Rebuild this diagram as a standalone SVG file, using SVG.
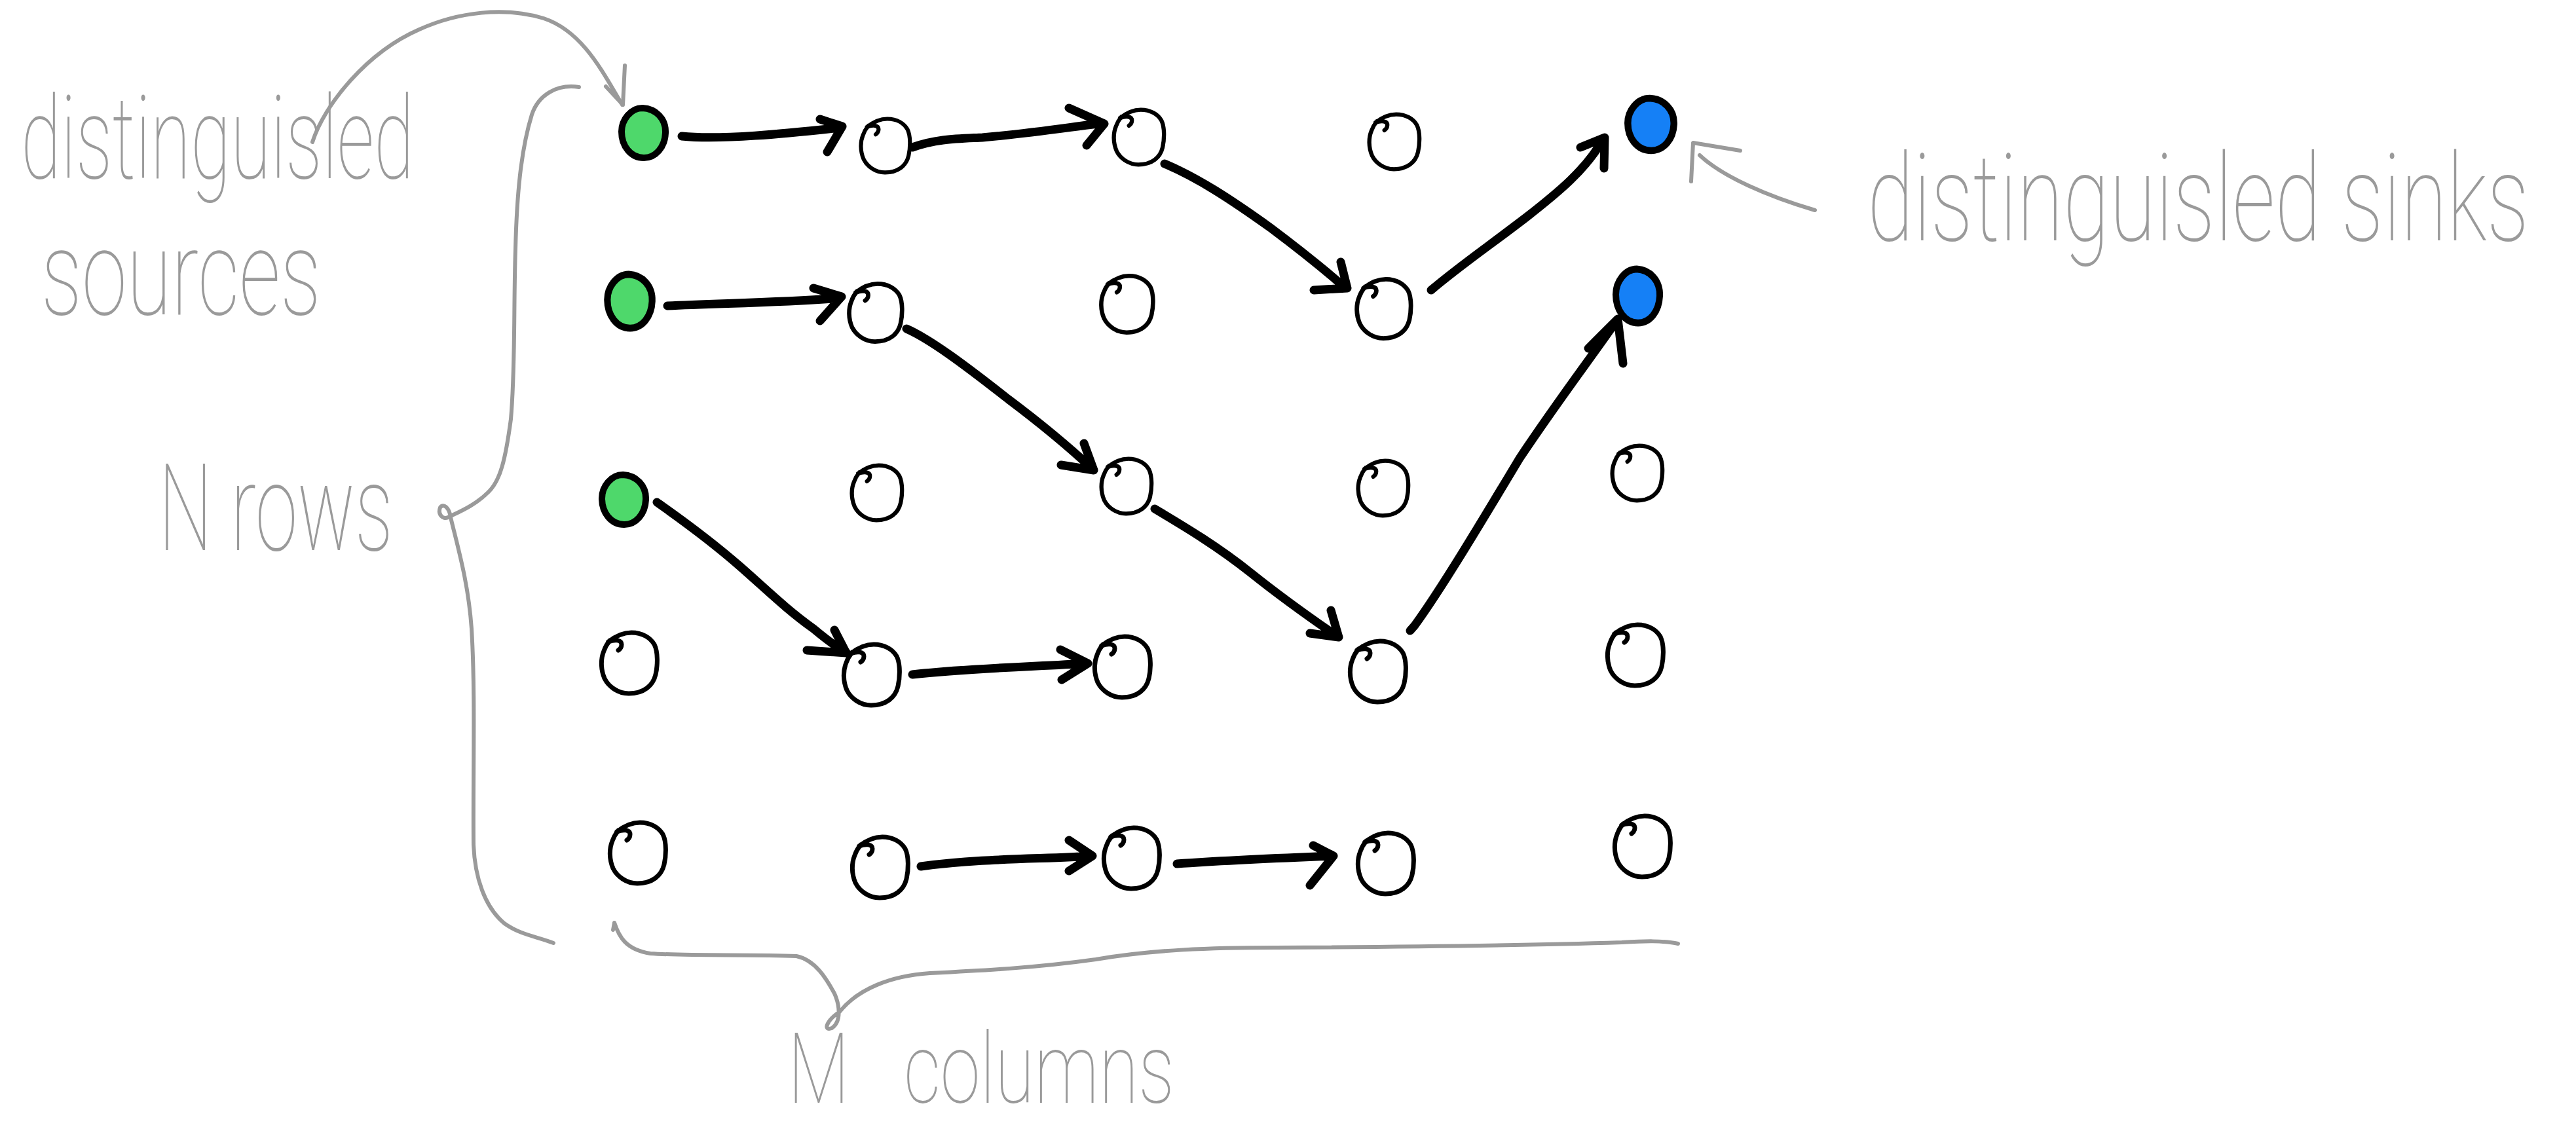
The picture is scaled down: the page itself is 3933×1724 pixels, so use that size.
<svg xmlns="http://www.w3.org/2000/svg" xmlns:xlink="http://www.w3.org/1999/xlink" width="3933" height="1724" viewBox="0 0 3933 1724">
<style>
.ring{fill:none;stroke:#000;stroke-width:7;stroke-linecap:round;stroke-linejoin:round}
.dot{stroke:#000;stroke-width:10;stroke-linejoin:round}
.src{fill:#4ed86b}
.snk{fill:#1580f6}
.edge{fill:none;stroke:#000;stroke-width:13;stroke-linecap:round;stroke-linejoin:round}
.note{fill:none;stroke:#9a9a9a;stroke-width:6;stroke-linecap:round;stroke-linejoin:round}
.hand{fill:#9a9a9a;font-family:Roboto,Lato,"DejaVu Sans",sans-serif;font-weight:100}
</style>
<defs>
  <!-- hand-drawn empty node: loop plus the little pen hook at its start -->
  <g id="ring">
    <path class="ring" d="M -32,-32 C -22,-40 -10,-46 3,-46 C 20,-46 32,-38 38,-28 C 44,-16 43,5 40,18 C 36,35 22,47 -1,47 C -18,47 -32,36 -38,24 C -44,10 -44,-6 -39,-18 C -37,-24 -34,-29 -30,-34"/>
    <path class="ring" d="M -32,-32 C -22,-36 -12,-35 -12,-28 C -12,-24 -14,-21 -17,-19"/>
  </g>
  <!-- filled terminal node -->
  <path id="dot" d="M -2,-38 C 18,-37 34,-22 33,0 C 32,22 18,38 0,38 C -20,38 -34,20 -34,-2 C -34,-20 -20,-38 -2,-38 Z"/>
</defs>
<rect width="3933" height="1724" fill="#fff"/>

<!-- annotations -->
<g id="annotations">
  <path class="note" d="M 477,217 C 495,160 560,80 640,45 C 700,18 770,10 830,28 C 890,48 920,110 950,160"/>
  <path class="note" d="M 954,100 L 951,160 L 925,132"/>
  <path class="note" d="M 884,133 C 850,128 822,145 812,175 C 795,230 789,300 787,380 C 784,470 787,560 780,640 C 772,700 764,735 745,752 C 725,772 700,782 684,790 C 676,794 668,785 672,775 C 677,768 686,775 688,790 C 700,840 715,890 720,960 C 726,1060 722,1180 723,1290 C 725,1340 740,1385 770,1410 C 795,1428 820,1430 845,1440"/>
  <path class="note" d="M 938,1409 L 936,1420 M 938,1409 C 945,1430 955,1450 993,1456 C 1050,1460 1150,1457 1216,1460 C 1245,1466 1262,1495 1274,1517 C 1282,1535 1285,1560 1270,1570 C 1256,1575 1262,1558 1282,1545 C 1310,1510 1360,1490 1420,1486 C 1500,1482 1580,1478 1673,1465 C 1760,1450 1850,1447 1948,1447 C 2150,1446 2350,1443 2476,1439 C 2510,1437 2540,1436 2562,1441"/>
  <path class="note" d="M 2771,321 C 2700,300 2630,270 2595,237 M 2657,230 L 2585,218 L 2582,277"/>
  <text class="hand" x="32" y="272" font-size="176" textLength="600" lengthAdjust="spacingAndGlyphs">distinguisled</text>
  <text class="hand" x="63" y="480" font-size="182" textLength="427" lengthAdjust="spacingAndGlyphs">sources</text>
  <text class="hand" x="242" y="840" font-size="185" textLength="358" lengthAdjust="spacingAndGlyphs">N rows</text>
  <text class="hand" y="1684" font-size="150"><tspan x="1203" textLength="94" lengthAdjust="spacingAndGlyphs">M</tspan> <tspan x="1380" textLength="413" lengthAdjust="spacingAndGlyphs">columns</tspan></text>
  <text class="hand" x="2851" y="367" font-size="186" textLength="1010" lengthAdjust="spacingAndGlyphs">distinguisled sinks</text>
</g>

<!-- connectors -->
<g id="connectors">
  <path class="edge" d="M 1041,208 C 1100,214 1200,204 1282,195 M 1252,182 L 1286,193 L 1263,232" stroke-width="15"/>
  <path class="edge" d="M 1393,225 C 1430,212 1460,212 1500,210 C 1580,203 1640,193 1684,188 M 1632,165 L 1686,189 L 1659,222" stroke-width="15"/>
  <path class="edge" d="M 1778,250 C 1830,272 1880,305 1940,348 C 1980,378 2020,410 2050,436 M 2047,400 L 2057,440 L 2006,443"/>
  <path class="edge" d="M 2185,443 C 2230,405 2270,378 2330,332 C 2380,293 2420,260 2447,214 M 2413,225 L 2450,210 L 2449,257"/>
  <path class="edge" d="M 1019,467 C 1100,463 1200,462 1283,455 M 1242,440 L 1285,453 L 1252,490" stroke-width="15"/>
  <path class="edge" d="M 1384,502 C 1420,518 1470,555 1540,610 C 1600,655 1640,690 1668,716 M 1655,677 L 1670,718 L 1620,710"/>
  <path class="edge" d="M 1763,777 C 1810,805 1860,835 1910,875 C 1960,915 2010,950 2042,972 M 2032,932 L 2044,973 L 2000,967"/>
  <path class="edge" d="M 2153,963 L 2160,955 C 2200,900 2260,800 2320,700 C 2380,610 2430,545 2468,490 M 2425,532 L 2470,487 L 2478,555"/>
  <path class="edge" d="M 1003,767 C 1050,800 1090,830 1130,865 C 1170,900 1200,930 1242,960 C 1260,975 1280,990 1292,996 M 1232,993 L 1292,997 L 1274,962"/>
  <path class="edge" d="M 1393,1030 C 1480,1020 1580,1018 1659,1013 M 1619,992 L 1661,1013 L 1621,1038"/>
  <path class="edge" d="M 1406,1323 C 1500,1310 1600,1312 1667,1307 M 1632,1283 L 1668,1307 L 1632,1330"/>
  <path class="edge" d="M 1797,1319 C 1880,1313 1960,1310 2034,1307 M 2005,1291 L 2036,1307 L 2000,1352"/>
</g>

<!-- grid nodes, row by row -->
<g id="n1-1"><use xlink:href="#dot" class="dot src" transform="translate(983,203)"/></g>
<g id="n1-2"><use xlink:href="#ring" transform="translate(1352,222) scale(0.88)"/></g>
<g id="n1-3"><use xlink:href="#ring" transform="translate(1739,209) scale(0.9)"/></g>
<g id="n1-4"><use xlink:href="#ring" transform="translate(2129,216) scale(0.9)"/></g>
<g id="n1-5"><use xlink:href="#dot" class="dot snk" transform="translate(2521,190) scale(1.05)"/></g>

<g id="n2-1"><use xlink:href="#dot" class="dot src" transform="translate(962,460) scale(1.02,1.08)"/></g>
<g id="n2-2"><use xlink:href="#ring" transform="translate(1337,477) scale(0.95)"/></g>
<g id="n2-3"><use xlink:href="#ring" transform="translate(1721,464) scale(0.93)"/></g>
<g id="n2-4"><use xlink:href="#ring" transform="translate(2113,471) scale(0.97)"/></g>
<g id="n2-5"><use xlink:href="#dot" class="dot snk" transform="translate(2501,452) scale(1,1.08)"/></g>

<g id="n3-1"><use xlink:href="#dot" class="dot src" transform="translate(953,763)"/></g>
<g id="n3-2"><use xlink:href="#ring" transform="translate(1339,752) scale(0.9)"/></g>
<g id="n3-3"><use xlink:href="#ring" transform="translate(1720,742) scale(0.9)"/></g>
<g id="n3-4"><use xlink:href="#ring" transform="translate(2112,745) scale(0.9)"/></g>
<g id="n3-5"><use xlink:href="#ring" transform="translate(2500,722) scale(0.9)"/></g>

<g id="n4-1"><use xlink:href="#ring" transform="translate(961,1012)"/></g>
<g id="n4-2"><use xlink:href="#ring" transform="translate(1331,1030)"/></g>
<g id="n4-3"><use xlink:href="#ring" transform="translate(1714,1018)"/></g>
<g id="n4-4"><use xlink:href="#ring" transform="translate(2104,1025)"/></g>
<g id="n4-5"><use xlink:href="#ring" transform="translate(2497,1000)"/></g>

<g id="n5-1"><use xlink:href="#ring" transform="translate(974,1302)"/></g>
<g id="n5-2"><use xlink:href="#ring" transform="translate(1344,1324)"/></g>
<g id="n5-3"><use xlink:href="#ring" transform="translate(1728,1310)"/></g>
<g id="n5-4"><use xlink:href="#ring" transform="translate(2116,1318)"/></g>
<g id="n5-5"><use xlink:href="#ring" transform="translate(2508,1292)"/></g>
</svg>
